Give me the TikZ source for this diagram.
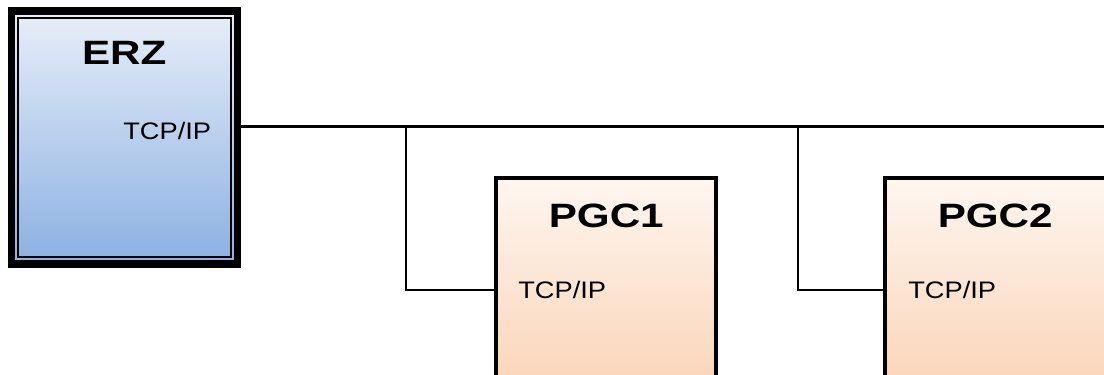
\documentclass[tikz,border=0pt]{standalone}
\usepackage{fontspec}
\setmainfont{Liberation Sans}
\usepackage{tikz}
\usetikzlibrary{positioning, calc}
\definecolor{erztop}{RGB}{232,238,248}
\definecolor{erzbot}{RGB}{139,176,225}
\definecolor{pgctop}{RGB}{254,246,240}
\definecolor{pgcbot}{RGB}{249,206,173}
\newcommand{\stretchtxt}[1]{\scalebox{1.25}[1]{#1}}
\newcommand{\stretchport}[1]{\scalebox{1.14}[1]{#1}}
\tikzset{
  erzbox/.style={rectangle, draw=black, top color=erztop, bottom color=erzbot,
    minimum width=5.66cm, minimum height=6.325cm, line width=5pt,
    inner sep=0pt, outer sep=0pt},
  erzrim/.style={draw=black, line width=1.4pt},
  pgcbox/.style={rectangle, draw=black, top color=pgctop, bottom color=pgcbot,
    minimum width=5.51cm, minimum height=6.3cm, line width=2.8pt,
    inner sep=0pt, outer sep=0pt},
  boxtitle/.style={font=\fontsize{24}{28}\selectfont\bfseries, inner sep=0pt},
  port/.style={font=\fontsize{17}{20}\selectfont, inner sep=0pt, anchor=west},
  line/.style={line width=1.6pt, color=black}
}

\begin{document}
\begin{tikzpicture}
  \useasboundingbox (0,0) rectangle (27.6,9.35);
  \clip (0,0) rectangle (27.6,9.35);

  % Boxes
  \node[erzbox] (erz) at (3.106, 5.9125) {};
  \draw[erzrim] ([shift={(0.17,0.17)}]erz.south west) rectangle ([shift={(-0.17,-0.17)}]erz.north east);
  \node[pgcbox] (pgc1) at (15.156, 1.75) {};
  \node[pgcbox, minimum width=5.6cm] (pgc2) at (24.925, 1.75) {};

  % Titles
  \node[boxtitle] (erzt) at ([yshift=-1.05cm]erz.north) {\stretchtxt{ERZ}};
  \node[boxtitle] (pgc1t) at ([yshift=-0.95cm]pgc1.north) {\stretchtxt{PGC1}};
  \node[boxtitle] (pgc2t) at ([xshift=-0.045cm, yshift=-0.95cm]pgc2.north) {\stretchtxt{PGC2}};

  % Ports
  \node[port] (erzp) at (3.075, 6.075) {\stretchport{TCP/IP}};
  \node[port] (pgc1p) at ([xshift=0.55cm]pgc1.west |- 0,2.1) {\stretchport{TCP/IP}};
  \node[port] (pgc2p) at ([xshift=0.575cm]pgc2.west |- 0,2.1) {\stretchport{TCP/IP}};

  % Bus
  \coordinate (busend) at (27.7, 6.1875);
  \coordinate (tap1) at (10.15, 6.1875);
  \coordinate (tap2) at (19.95, 6.1875);
  \draw[line] (erz.east |- busend) -- (busend);

  % Drops to the PGCs
  \draw[line] (tap1) |- (pgc1.west |- pgc1p);
  \draw[line] (tap2) |- (pgc2.west |- pgc2p);
\end{tikzpicture}
\end{document}
